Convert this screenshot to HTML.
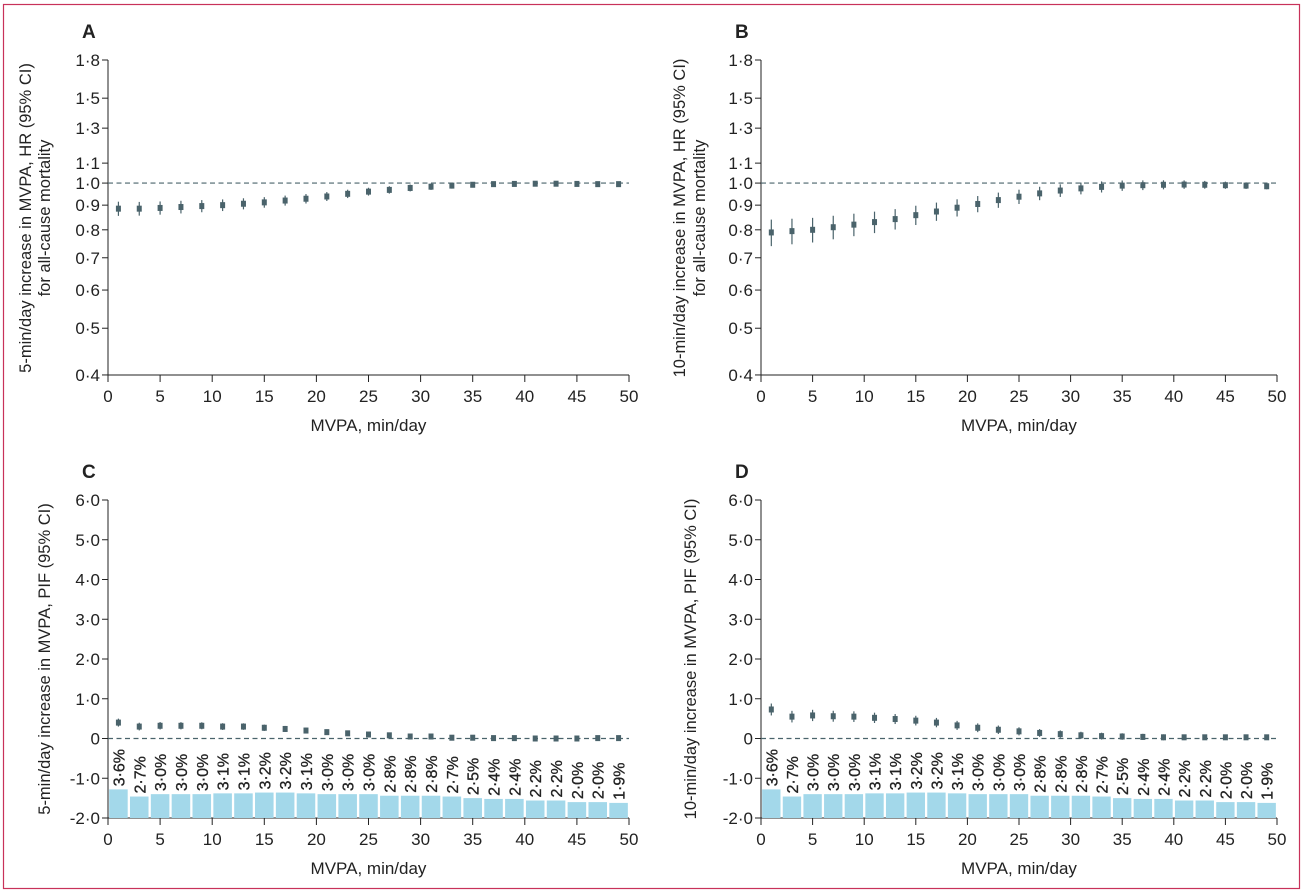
<!DOCTYPE html>
<html><head><meta charset="utf-8"><style>
html,body{margin:0;padding:0;background:#fff;}
svg{display:block;font-family:"Liberation Sans",sans-serif;}
</style></head><body>
<svg id="s" width="1305" height="894" xmlns="http://www.w3.org/2000/svg"></svg>
<script>
const S=document.getElementById('s');let h='';
h+='<rect x="3.5" y="4.5" width="1296" height="884" fill="none" stroke="#c8325a" stroke-width="1.2"/>';
const col='#4a636b';
function panel(x0,x1,yT,yB,ymap,ticks,letter,lab,pts,bars){
  const X=v=>x0+(x1-x0)*v/50;
  h+=`<text x="${x0-26}" y="${yT-22}" font-size="19" font-weight="bold" fill="#222">${letter}</text>`;
  h+=`<line x1="${x0}" y1="${yT}" x2="${x0}" y2="${yB}" stroke="#222" stroke-width="1"/>`;
  h+=`<line x1="${x0}" y1="${yB}" x2="${x1}" y2="${yB}" stroke="#222" stroke-width="1"/>`;
  for(const t of ticks){const y=ymap(t[0]);h+=`<line x1="${x0-6}" y1="${y}" x2="${x0}" y2="${y}" stroke="#222"/>`;
    h+=`<text x="${x0-8}" y="${y+6}" font-size="17" text-anchor="end" fill="#222">${t[1]}</text>`;}
  for(let v=0;v<=50;v+=5){const x=X(v);h+=`<line x1="${x}" y1="${yB}" x2="${x}" y2="${yB+7}" stroke="#222"/>`;
    h+=`<text x="${x}" y="${yB+27}" font-size="17" text-anchor="middle" fill="#222">${v}</text>`;}
  h+=`<text x="${(x0+x1)/2}" y="${yB+56}" font-size="17" text-anchor="middle" fill="#222">MVPA, min/day</text>`;
  h+=lab;
  if(bars){bars.forEach((p,i)=>{const c=X(2*i+1),w=(x1-x0)/50*1.78,ht=p*7.95;
    h+=`<rect x="${c-w/2}" y="${yB-ht}" width="${w}" height="${ht}" fill="#a3d8ea"/>`;
    const s=p.toFixed(1).replace('.','·')+'%';
    h+=`<text transform="translate(${c+6},${yB-ht-3}) rotate(-90)" font-size="16" fill="#222" stroke="#222" stroke-width="0.3">${s}</text>`;});}
  const yr=ymap(letter<'C'?1:0);
  h+=`<line x1="${x0}" y1="${yr}" x2="${x1}" y2="${yr}" stroke="${col}" stroke-dasharray="5,3.5" stroke-width="1.2"/>`;
  pts.forEach((p,i)=>{const x=X(2*i+1);const y=ymap(p[0]),y1=ymap(p[0]-p[1]),y2=ymap(p[0]+p[1]);
    h+=`<line x1="${x}" y1="${y1}" x2="${x}" y2="${y2}" stroke="${col}" stroke-width="1.2"/>`;
    h+=`<rect x="${x-2.5}" y="${y-3}" width="5" height="6" fill="${col}"/>`;});
}
const L=v=>60+(Math.log(1.8)-Math.log(v))*209.4;
const hrT=[[1.8,'1·8'],[1.5,'1·5'],[1.3,'1·3'],[1.1,'1·1'],[1.0,'1·0'],[0.9,'0·9'],[0.8,'0·8'],[0.7,'0·7'],[0.6,'0·6'],[0.5,'0·5'],[0.4,'0·4']];
const lin=v=>738.5-v*39.75;
const pfT=[[6,'6·0'],[5,'5·0'],[4,'4·0'],[3,'3·0'],[2,'2·0'],[1,'1·0'],[0,'0'],[-1,'-1·0'],[-2,'-2·0']];
const A=[.885,.885,.888,.892,.896,.9,.906,.912,.92,.928,.938,.95,.96,.968,.977,.983,.988,.992,.995,.996,.997,.997,.996,.995,.995];
const B=[.79,.795,.80,.81,.82,.83,.842,.858,.873,.889,.905,.922,.937,.952,.965,.975,.982,.988,.99,.992,.993,.992,.99,.988,.985];
const C=[.4,.3,.32,.32,.32,.3,.3,.27,.24,.2,.16,.13,.1,.08,.05,.05,.02,.02,.01,.01,0,0,0,.01,.01];
const D=[.73,.55,.58,.56,.55,.52,.49,.45,.4,.33,.27,.22,.18,.14,.11,.08,.06,.05,.04,.03,.03,.03,.03,.03,.03];
const bp=[3.6,2.7,3.0,3.0,3.0,3.1,3.1,3.2,3.2,3.1,3.0,3.0,3.0,2.8,2.8,2.8,2.7,2.5,2.4,2.4,2.2,2.2,2.0,2.0,1.9];
const rl=(x,y,t)=>`<text transform="translate(${x},${y}) rotate(-90)" font-size="16.5" text-anchor="middle" fill="#222">${t}</text>`;
panel(108,629,60,375,L,hrT,'A',rl(31,218,'5-min/day increase in MVPA, HR (95% CI)')+rl(50,218,'for all-cause mortality'),A.map((v,i)=>[v,Math.max(.008,.03-i*.001)]),null);
panel(761,1277,60,375,L,hrT,'B',rl(685,218,'10-min/day increase in MVPA, HR (95% CI)')+rl(705,218,'for all-cause mortality'),B.map((v,i)=>[v,Math.max(.012,.05-i*.0015)]),null);
panel(108,629,500,818,lin,pfT,'C',rl(50,659,'5-min/day increase in MVPA, PIF (95% CI)'),C.map((v,i)=>[v,Math.max(.03,.1-i*.003)]),bp);
panel(761,1277,500,818,lin,pfT,'D',rl(696,659,'10-min/day increase in MVPA, PIF (95% CI)'),D.map((v,i)=>[v,Math.max(.04,.15-i*.004)]),bp);
S.innerHTML=h;
</script>
</body></html>
